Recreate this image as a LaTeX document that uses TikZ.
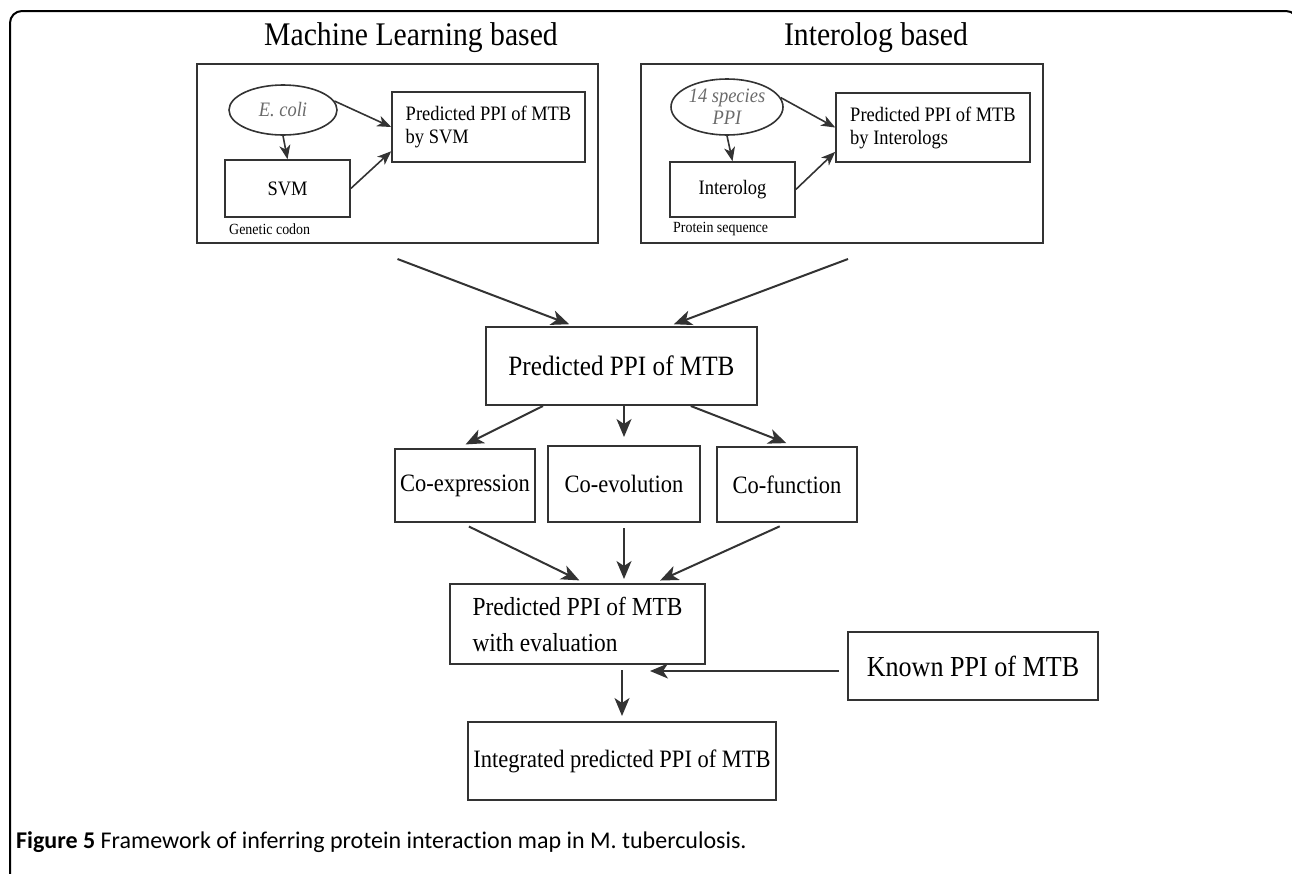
\documentclass[tikz,border=0pt]{standalone}
\usepackage{fontspec}
\setmainfont{Liberation Serif}[FakeStretch=0.9]
\newfontfamily\capfont{Carlito}[Ligatures=NoCommon]
\usetikzlibrary{arrows.meta,calc,shapes.geometric}

\definecolor{ink}{HTML}{333333}
\definecolor{pale}{HTML}{6A6A6A}

\newcommand{\fTitle}{\fontsize{33}{37}\selectfont}
\newcommand{\fMain}{\fontsize{28}{36}\selectfont}
\newcommand{\fCo}{\fontsize{25}{30}\selectfont}
\newcommand{\fSmall}{\fontsize{20.5}{23}\selectfont}
\newcommand{\fTiny}{\fontsize{15.5}{18}\selectfont}

\begin{document}
\begin{tikzpicture}[x=1pt,y=-1pt]
 \tikzset{box/.style = {draw=ink, line width=2pt, rectangle, inner sep=0pt}}
 \tikzset{oval/.style = {draw=ink, line width=1.6pt, ellipse, inner sep=0pt, font=\fSmall\itshape, text=pale, align=center}}
 \tikzset{arr/.style = {draw=ink, line width=2pt, -{Stealth[length=18pt,width=15pt,inset=5pt]}}}
 \tikzset{thin arr/.style = {draw=ink, line width=1.6pt, -{Stealth[length=14pt,width=11pt,inset=4pt]}}}

 \useasboundingbox (0,0) rectangle (1292,873);
 \clip (0,0) rectangle (1292,873);
 \draw[line width=2pt, rounded corners=12pt] (10,890) -- (10,11) -- (1298,11) -- (1298,890);

 % two methods
 \node[font=\fTitle] (mltitle) at (411,38) {Machine Learning based};
 \node[font=\fTitle] (iltitle) at (876,38) {Interolog based};
 \node[box, minimum width=401pt, minimum height=179pt] (mlpanel) at (397.5,153.5) {};
 \node[box, minimum width=402pt, minimum height=179pt] (ilpanel) at (842,153.5) {};

 \node[oval, minimum width=108pt, minimum height=50pt] (ecoli) at (283,110) {E. coli};
 \node[box, line width=1.6pt, minimum width=125pt, minimum height=57pt, font=\fSmall] (svm) at (287.5,188.5) {SVM};
 \node[box, line width=1.6pt, minimum width=193pt, minimum height=70pt, font=\fSmall, align=left] (predsvm) at (488.5,127) {Predicted PPI of MTB\\by SVM};
 \node[font=\fTiny, anchor=west, inner sep=0pt] (codon) at (229,229) {Genetic codon};

 \node[oval, minimum width=112pt, minimum height=56pt] (species) at (727,107) {14 species\\[-1pt]PPI};
 \node[box, line width=1.6pt, minimum width=125pt, minimum height=55pt, font=\fSmall] (interolog) at (732.5,189.5) {Interolog};
 \node[box, line width=1.6pt, minimum width=194pt, minimum height=69pt, font=\fSmall, align=left] (predil) at (933,127.5) {Predicted PPI of MTB\\by Interologs};
 \node[font=\fTiny, anchor=west, inner sep=0pt] (seq) at (673,229) {Protein sequence};

 \draw[thin arr] (ecoli.10) -- (predsvm.west);
 \draw[thin arr] (ecoli.south) -- (svm.north);
 \draw[thin arr] (svm.east) -- (predsvm.194);
 \draw[thin arr] (species.10) -- (predil.west);
 \draw[thin arr] (species.south) -- (interolog.north);
 \draw[thin arr] (interolog.east) -- (predil.194);

 % merged prediction
 \node[box, minimum width=271pt, minimum height=78pt, font=\fMain] (pred) at (621.5,366) {Predicted PPI of MTB};
 \draw[arr, shorten >=5pt] ($(mlpanel.south)+(0,15)$) -- (pred.140);
 \draw[arr, shorten >=5pt] ($(ilpanel.south)+(6,15)$) -- (pred.40);

 % evaluation
 \node[box, minimum width=140pt, minimum height=73pt, font=\fCo] (coexp) at (465,485.5) {Co-expression};
 \node[box, minimum width=152pt, minimum height=76pt, font=\fCo] (coevo) at (624,484) {Co-evolution};
 \node[box, minimum width=140pt, minimum height=75pt, font=\fCo] (cofun) at (787,484.5) {Co-function};
 \draw[arr, shorten >=8pt] (pred.207) -- (coexp.100);
 \draw[arr, shorten >=8pt] (pred.south -| coevo.north) -- (coevo.north);
 \draw[arr, shorten >=8pt] (pred.-30) -- (cofun.80);

 \node[box, minimum width=255pt, minimum height=80pt, font=\fontsize{26}{36}\selectfont, align=left] (evalppi) at (577.5,624) {Predicted PPI of MTB\\with evaluation};
 \draw[arr, shorten <=8pt, shorten >=6pt] (coexp.-95) -- (evalppi.80);
 \draw[arr, shorten <=5pt, shorten >=4pt] (coevo.south) -- (coevo.south |- evalppi.north);
 \draw[arr, shorten <=8pt, shorten >=6pt] (cofun.south) -- (evalppi.28);

 % integration with known PPI
 \node[box, minimum width=250pt, minimum height=68pt, font=\fontsize{29}{34}\selectfont] (known) at (973,666) {Known PPI of MTB};
 \node[box, minimum width=308pt, minimum height=78pt, font=\fCo] (integ) at (622,761) {Integrated predicted PPI of MTB};
 \coordinate (kend) at (650,671);
 \draw[arr, shorten <=5pt, shorten >=5pt] (integ.north |- evalppi.south) -- (integ.north);
 \draw[arr, shorten <=8pt] (known.west |- kend) -- (kend);

 \node[anchor=west, inner sep=0pt, font=\capfont\fontsize{24}{28}\selectfont] (caption) at (16,842)
   {\textbf{Figure 5} Framework of inferring protein interaction map in M. tuberculosis.};
\end{tikzpicture}
\end{document}
